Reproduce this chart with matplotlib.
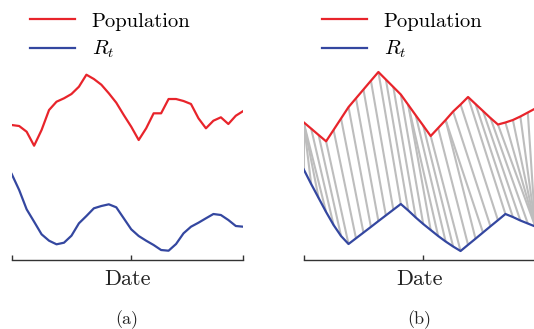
import matplotlib
matplotlib.use("Agg")
import matplotlib.pyplot as plt
import numpy as np
from matplotlib.collections import LineCollection

# series heights (32 daily samples)
pop_a = [135, 134, 128.3, 114.3, 130, 150, 158.3, 161.7, 166, 173.3, 185.3, 181,
         175.3, 166.7, 157.3, 145, 133.3, 120, 131.7, 146.7, 146.7, 161, 161, 159,
         156, 141.7, 131.7, 139.3, 142.7, 136, 144.3, 149]
rt_a = [86, 70, 50.7, 38.3, 25.7, 19.3, 15.7, 17.3, 24.3, 36.7, 44, 51.7, 54, 55.7,
        52.7, 41.7, 30.7, 24, 19.3, 15, 10, 9.3, 16, 26.7, 33.3, 37.3, 41.7, 46, 45,
        40, 34, 33.3]

pop_b = [137.7, 131.4, 125, 118.7, 130.1, 141.5, 152.9, 161.7, 170.5, 179.3, 188,
         180.5, 173, 165.5, 155.1, 144.7, 134.4, 124, 132, 140, 148.5, 155.5, 163,
         156, 149, 142, 135.5, 137.5, 140, 143.5, 147.5, 151.5]
rt_b = [90.7, 76, 62, 48, 35, 24, 16, 21.7, 27.4, 33.1, 38.9, 44.6, 50.3, 56, 49.5,
        42.5, 36, 30, 24, 18.5, 13.5, 9, 15.2, 21.3, 27.5, 33.7, 39.8, 46, 43, 39.5,
        36.5, 33.5]

# warping path: (population index, R_t index)
path_pop = [0, 0, 0, 0, 1, 2, 3, 4, 5, 6, 7, 8, 9, 10, 11, 12, 13, 14, 14, 15, 16,
            17, 18, 19, 19, 20, 21, 22, 23, 24, 25, 26, 27, 28, 29, 30, 31]
path_rt = [0, 1, 2, 3, 4, 5, 6, 7, 8, 9, 10, 11, 12, 13, 14, 15, 16, 17, 18, 19, 20,
           21, 22, 23, 24, 25, 26, 27, 28, 29, 30, 31, 31, 31, 31, 31, 31]

date_ticks = [0, 16, 31]

RED = '#e8242b'
BLUE = '#3447a0'

plt.rcParams['font.family'] = 'cmr10'
plt.rcParams['mathtext.fontset'] = 'cm'
plt.rcParams['axes.unicode_minus'] = False


def style_axis(ax):
    ax.set_xlim(0, len(pop_a) - 1)
    ax.set_ylim(0, 200)
    for side in ['left', 'right', 'top']:
        ax.spines[side].set_visible(False)
    ax.spines['bottom'].set_linewidth(1.0)
    ax.spines['bottom'].set_color('#333333')
    ax.set_yticks([])
    ax.set_xticks(date_ticks)
    ax.set_xticklabels([])
    ax.tick_params(axis='x', direction='in', length=3.8, width=1.0, color='#333333')
    ax.set_xlabel('Date', fontsize=16, labelpad=3, color='#222222')
    ax.patch.set_visible(False)


def add_legend(ax, fig, x):
    ax.legend(loc='upper left', bbox_to_anchor=(x, 0.963), bbox_transform=fig.transFigure,
              frameon=False, fontsize=14.8, handlelength=2.2, handletextpad=0.8,
              labelspacing=0.4, borderpad=0, borderaxespad=0)


def main():
    fig = plt.figure(figsize=(5.34, 3.29), dpi=100)
    ax_a = fig.add_axes([0.0219, 0.2097, 0.4337, 0.6079])
    ax_b = fig.add_axes([0.5687, 0.2097, 0.4337, 0.6079])

    x = np.arange(len(pop_a))
    ax_a.plot(x, pop_a, color=RED, lw=1.6, label='Population')
    ax_a.plot(x, rt_a, color=BLUE, lw=1.6, label=r'$R_t$')

    segs = [[(i, pop_b[i]), (j, rt_b[j])] for i, j in zip(path_pop, path_rt)]
    ax_b.add_collection(LineCollection(segs, colors='#bdbdbd', linewidths=1.5, zorder=1))
    ax_b.plot(x, pop_b, color=RED, lw=1.6, label='Population', zorder=3)
    ax_b.plot(x, rt_b, color=BLUE, lw=1.6, label=r'$R_t$', zorder=3)

    for ax in [ax_a, ax_b]:
        style_axis(ax)
    add_legend(ax_a, fig, 0.0562)
    add_legend(ax_b, fig, 0.603)

    fig.text(126.5 / 534, 1 - 320 / 329, '(a)', ha='center', va='center', fontsize=13, color='#222222')
    fig.text(419.5 / 534, 1 - 320 / 329, '(b)', ha='center', va='center', fontsize=13, color='#222222')

    fig.savefig('out.png', dpi=100)


if __name__ == "__main__":
    main()
